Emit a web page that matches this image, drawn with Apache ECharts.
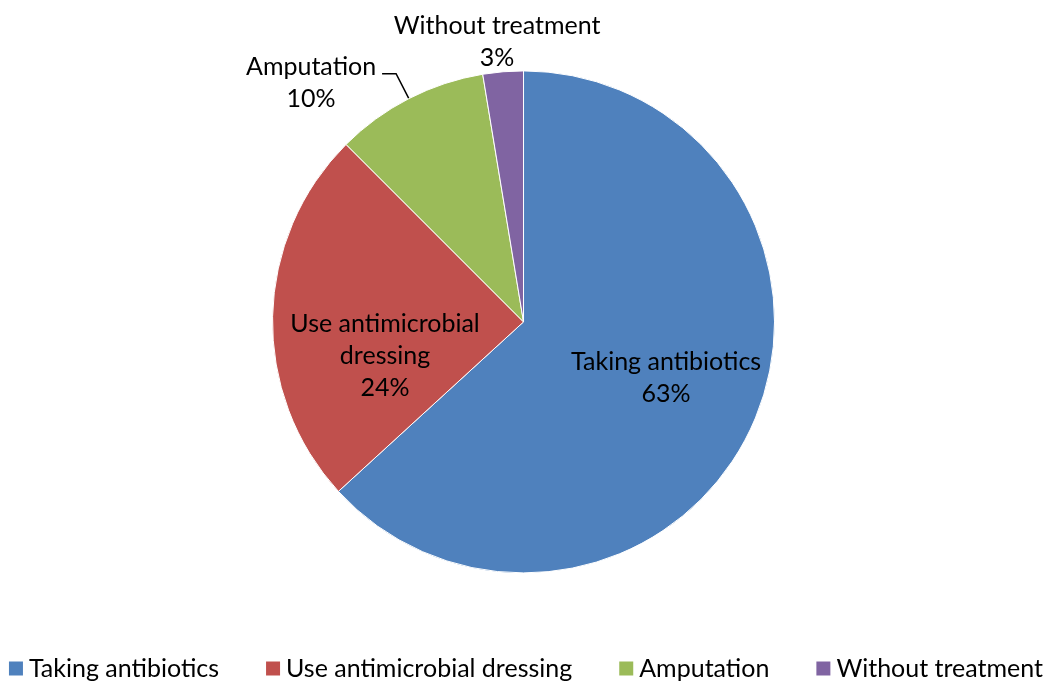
<!DOCTYPE html>
<html>
<head>
<meta charset="utf-8">
<script src="https://cdn.jsdelivr.net/npm/echarts@6/dist/echarts.min.js"></script>
<style>
html, body { margin: 0; padding: 0; background: #fff; }
#main { width: 1050px; height: 682px; }
</style>
</head>
<body>
<div id="main"></div>
<script>
// data (percent of patients)
var categories = ['Taking antibiotics', 'Use antimicrobial dressing', 'Amputation', 'Without treatment'];
var values = [63.2, 24.3, 9.9, 2.6];
var colors = ['#4F81BD', '#C0504D', '#9BBB59', '#8064A2'];
// label text as shown (some names wrap)
var labelNames = ['Taking antibiotics', 'Use antimicrobial\ndressing', 'Amputation', 'Without treatment'];

// small nudges so labels sit where excel put them
var labelShift = [[25, 4], [-10, 37], [-66, 9], [-1, -30]];

var font = 'Lato';

var chart = echarts.init(document.getElementById('main'));

var pieData = categories.map(function (name, i) {
    var item = {
        name: name,
        value: values[i],
        itemStyle: { color: colors[i] },
        label: { position: i < 2 ? 'inside' : 'outside' }
    };
    if (i === 3) {
        item.labelLine = { show: false, length: 0, length2: 0 };
    }
    return item;
});

var option = {
    animation: false,
    textStyle: { fontFamily: font },
    legend: {
        top: 656,
        left: 'center',
        padding: 0,
        icon: 'rect',
        itemWidth: 16,
        itemHeight: 16,
        itemGap: 45,
        textStyle: { fontSize: 25, color: '#000', fontFamily: font },
        data: categories
    },
    series: [{
        type: 'pie',
        center: ['49.86%', '47.2%'],
        radius: 251,
        startAngle: 90,
        clockwise: true,
        avoidLabelOverlap: false,
        itemStyle: { borderColor: '#fff', borderWidth: 1 },
        label: {
            color: '#000',
            fontSize: 25,
            lineHeight: 32,
            fontFamily: font,
            formatter: function (p) {
                return labelNames[p.dataIndex] + '\n' + Math.round(p.percent) + '%';
            }
        },
        labelLine: {
            length: 28,
            length2: 14,
            lineStyle: { color: '#000', width: 1.5 }
        },
        labelLayout: function (p) {
            var s = labelShift[p.dataIndex];
            return {
                dx: s[0],
                dy: s[1],
                align: 'center',
                labelLinePoints: p.labelLinePoints
            };
        },
        emphasis: { disabled: true },
        data: pieData
    }]
};

chart.setOption(option);
</script>
</body>
</html>
